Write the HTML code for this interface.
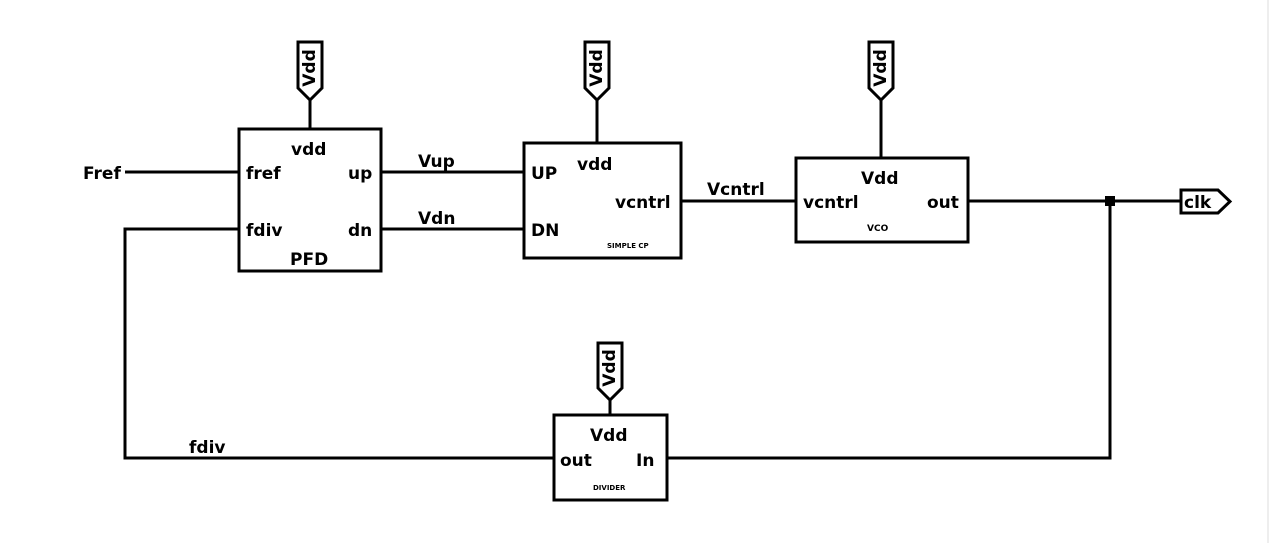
<!DOCTYPE html>
<html><head><style>body{margin:0;background:#fff}svg{display:block}text{font-family:"DejaVu Sans","Liberation Sans",sans-serif;font-weight:bold;fill:#000}</style></head><body>
<svg width="1270" height="543" viewBox="0 0 1270 543">
<rect x="0" y="0" width="1270" height="543" fill="#fff"/>
<line x1="1268" y1="0" x2="1268" y2="543" stroke="#eee" stroke-width="2"/>
<g fill="none" stroke="#000" stroke-width="3">
<rect x="239" y="129" width="142" height="142"/>
<rect x="524" y="143" width="157" height="115"/>
<rect x="796" y="158" width="172" height="84"/>
<rect x="554" y="415" width="113" height="85"/>
<path d="M298 42H322V88L310 100L298 88Z"/>
<path d="M585 42H609V88L597 100L585 88Z"/>
<path d="M869 42H893V88L881 100L869 88Z"/>
<path d="M598 343H622V388L610 400L598 388Z"/>
<path d="M1181 190H1218L1230 201.5L1218 213H1181Z"/>
<line x1="310" y1="100" x2="310" y2="129"/>
<line x1="597" y1="100" x2="597" y2="143"/>
<line x1="881" y1="100" x2="881" y2="158"/>
<line x1="610" y1="400" x2="610" y2="415"/>
<line x1="125" y1="172" x2="239" y2="172"/>
<path d="M239 229H125V458H554"/>
<line x1="381" y1="172" x2="524" y2="172"/>
<line x1="381" y1="229" x2="524" y2="229"/>
<line x1="681" y1="201" x2="796" y2="201"/>
<line x1="968" y1="201" x2="1181" y2="201"/>
<path d="M1110 201V458H667"/>
</g>
<rect x="1105" y="196" width="10" height="10" fill="#000"/>
<g font-size="17">
<text x="310" y="68" transform="rotate(-90 310 68)" text-anchor="middle" dominant-baseline="central">Vdd</text>
<text x="597" y="68" transform="rotate(-90 597 68)" text-anchor="middle" dominant-baseline="central">Vdd</text>
<text x="881" y="68" transform="rotate(-90 881 68)" text-anchor="middle" dominant-baseline="central">Vdd</text>
<text x="610" y="368" transform="rotate(-90 610 368)" text-anchor="middle" dominant-baseline="central">Vdd</text>
<text x="83" y="179">Fref</text>
<text x="291" y="155">vdd</text>
<text x="246" y="179">fref</text>
<text x="348" y="179">up</text>
<text x="246" y="236">fdiv</text>
<text x="348" y="236">dn</text>
<text x="290" y="265">PFD</text>
<text x="418" y="167">Vup</text>
<text x="418" y="224">Vdn</text>
<text x="531" y="179">UP</text>
<text x="577" y="170">vdd</text>
<text x="615" y="208">vcntrl</text>
<text x="531" y="236">DN</text>
<text x="707" y="195">Vcntrl</text>
<text x="803" y="208">vcntrl</text>
<text x="861" y="184">Vdd</text>
<text x="927" y="208">out</text>
<text x="1184" y="208">clk</text>
<text x="189" y="453">fdiv</text>
<text x="590" y="441">Vdd</text>
<text x="560" y="466">out</text>
<text x="636" y="466">In</text>
</g>
<text x="607" y="248" font-size="7">SIMPLE CP</text>
<text x="867" y="231" font-size="9">VCO</text>
<text x="593" y="490" font-size="7">DIVIDER</text>
</svg>
</body></html>
